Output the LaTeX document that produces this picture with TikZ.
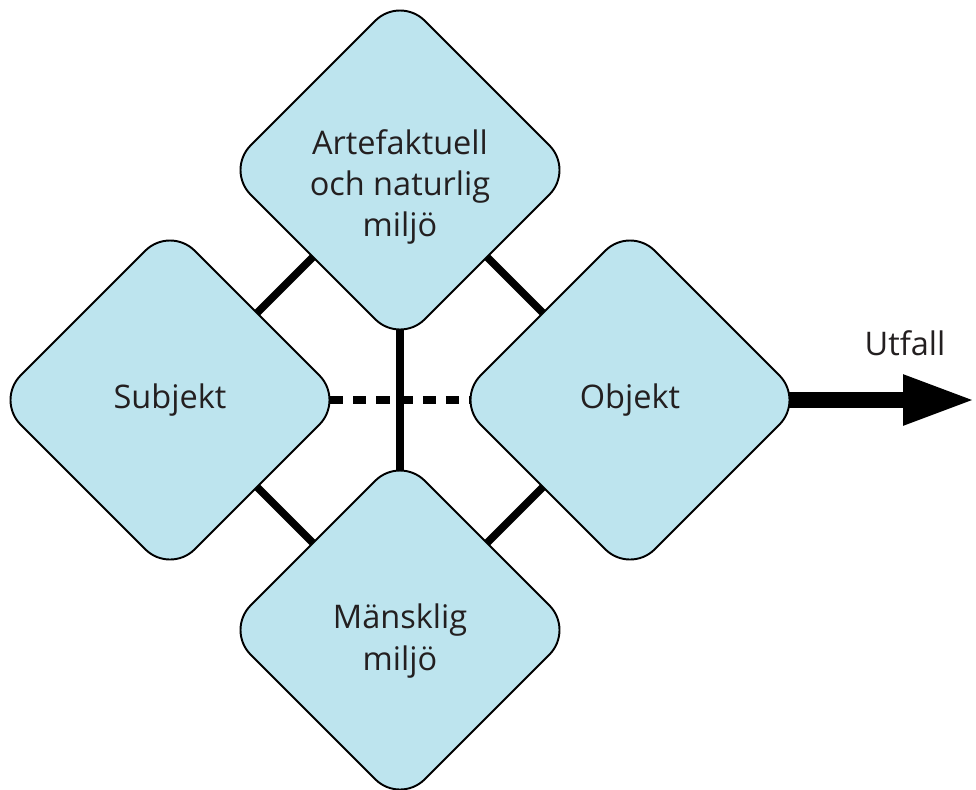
\documentclass[tikz,border=0pt]{standalone}
\usepackage{fontspec}
\setmainfont{Open Sans}
\usetikzlibrary{shapes.geometric,arrows.meta,backgrounds}
\definecolor{dialight}{RGB}{189,228,238}
\definecolor{txtgray}{RGB}{35,31,32}
\tikzset{
  dia/.style={diamond,draw=black,line width=1.1pt,fill=dialight,rounded corners=0.7cm,
    minimum width=6.96cm,minimum height=6.96cm,inner sep=0pt,outer sep=0pt},
  txt/.style={align=center,text=txtgray,font=\fontsize{18.5}{23.5}\selectfont},
  link/.style={line width=4.3pt}
}
\begin{document}
\begin{tikzpicture}
\useasboundingbox (0,0) rectangle (19.52,-15.78);
\node[dia] (art) at (8,-3.4) {};
\node[dia] (sub) at (3.4,-8) {};
\node[dia] (obj) at (12.6,-8) {};
\node[dia] (man) at (8,-12.6) {};
\node[txt] at ([yshift=-0.34cm]art) {Artefaktuell\\och naturlig\\miljö};
\node[txt] at (sub) {Subjekt};
\node[txt] at (obj) {Objekt};
\node[txt] at ([yshift=-0.22cm]man) {Mänsklig\\miljö};
\coordinate (end) at (19.52,-8);
\begin{scope}[on background layer]
\draw[link] (art.south west)--(sub.north east);
\draw[link] (art.south east)--(obj.north west);
\draw[link] (sub.south east)--(man.north west);
\draw[link] (obj.south west)--(man.north east);
\draw[link] (art.center)--(man.center);
\draw[link,dash pattern=on 7.5pt off 5.7pt] ([xshift=-0.28cm]sub.east)--([xshift=0.28cm]obj.west);
\draw[line width=9.5pt,-{Triangle[length=1.46cm,width=0.92cm]}] (obj.center)--(end);
\end{scope}
\node[txt] (out) at (18.1,-6.86) {Utfall};
\end{tikzpicture}
\end{document}
